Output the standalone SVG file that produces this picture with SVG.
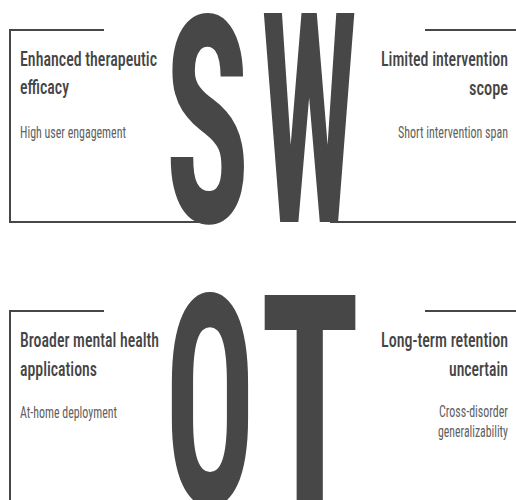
<svg xmlns="http://www.w3.org/2000/svg" width="516" height="500" viewBox="0 0 516 500">
  <style>
    .frame { fill: none; stroke: #474747; stroke-width: 2; }
    .big { font-family: "Roboto Condensed", Roboto, "Liberation Sans", sans-serif; font-weight: 700; font-stretch: condensed; fill: #474747; }
    .title { font-family: "Roboto Condensed", Roboto, "Liberation Sans", sans-serif; font-weight: 500; font-stretch: condensed; font-size: 21px; fill: #454545; }
    .sub { font-family: "Roboto Condensed", Roboto, "Liberation Sans", sans-serif; font-weight: 400; font-stretch: condensed; font-size: 16px; fill: #606060; }
    .end { text-anchor: end; }
  </style>

  <!-- quadrant frames -->
  <g id="connectors">
    <path class="frame" d="M104 30 H10 V222 H215"/>
    <path class="frame" d="M425 30 H516 M330 222 H516"/>
    <path class="frame" d="M104 311 H10 V500"/>
    <path class="frame" d="M425 311 H516"/>
  </g>

  <!-- big letters -->
  <g id="letters">
    <text class="big" x="165" y="222" font-size="290" textLength="85" lengthAdjust="spacingAndGlyphs">S</text>
    <text class="big" x="261" y="222" font-size="294" textLength="96" lengthAdjust="spacingAndGlyphs">W</text>
    <text class="big" x="165" y="504" font-size="294" textLength="90" lengthAdjust="spacingAndGlyphs">O</text>
    <text class="big" x="260" y="504" font-size="294" textLength="100" lengthAdjust="spacingAndGlyphs">T</text>
  </g>

  <!-- strengths -->
  <g id="strengths">
    <text class="title" x="20" y="66" textLength="137" lengthAdjust="spacingAndGlyphs">Enhanced therapeutic</text>
    <text class="title" x="20" y="94" textLength="49" lengthAdjust="spacingAndGlyphs">efficacy</text>
    <text class="sub" x="20" y="138" textLength="106" lengthAdjust="spacingAndGlyphs">High user engagement</text>
  </g>

  <!-- weaknesses -->
  <g id="weaknesses">
    <text class="title end" x="508" y="66" textLength="127" lengthAdjust="spacingAndGlyphs">Limited intervention</text>
    <text class="title end" x="508" y="95" textLength="39" lengthAdjust="spacingAndGlyphs">scope</text>
    <text class="sub end" x="508" y="138" textLength="110" lengthAdjust="spacingAndGlyphs">Short intervention span</text>
  </g>

  <!-- opportunities -->
  <g id="opportunities">
    <text class="title" x="20" y="347" textLength="139" lengthAdjust="spacingAndGlyphs">Broader mental health</text>
    <text class="title" x="20" y="376" textLength="77" lengthAdjust="spacingAndGlyphs">applications</text>
    <text class="sub" x="20" y="418" textLength="97" lengthAdjust="spacingAndGlyphs">At-home deployment</text>
  </g>

  <!-- threats -->
  <g id="threats">
    <text class="title end" x="508" y="347" textLength="127" lengthAdjust="spacingAndGlyphs">Long-term retention</text>
    <text class="title end" x="508" y="376" textLength="59" lengthAdjust="spacingAndGlyphs">uncertain</text>
    <text class="sub end" x="508" y="417" textLength="69" lengthAdjust="spacingAndGlyphs">Cross-disorder</text>
    <text class="sub end" x="508" y="437" textLength="70" lengthAdjust="spacingAndGlyphs">generalizability</text>
  </g>
</svg>
